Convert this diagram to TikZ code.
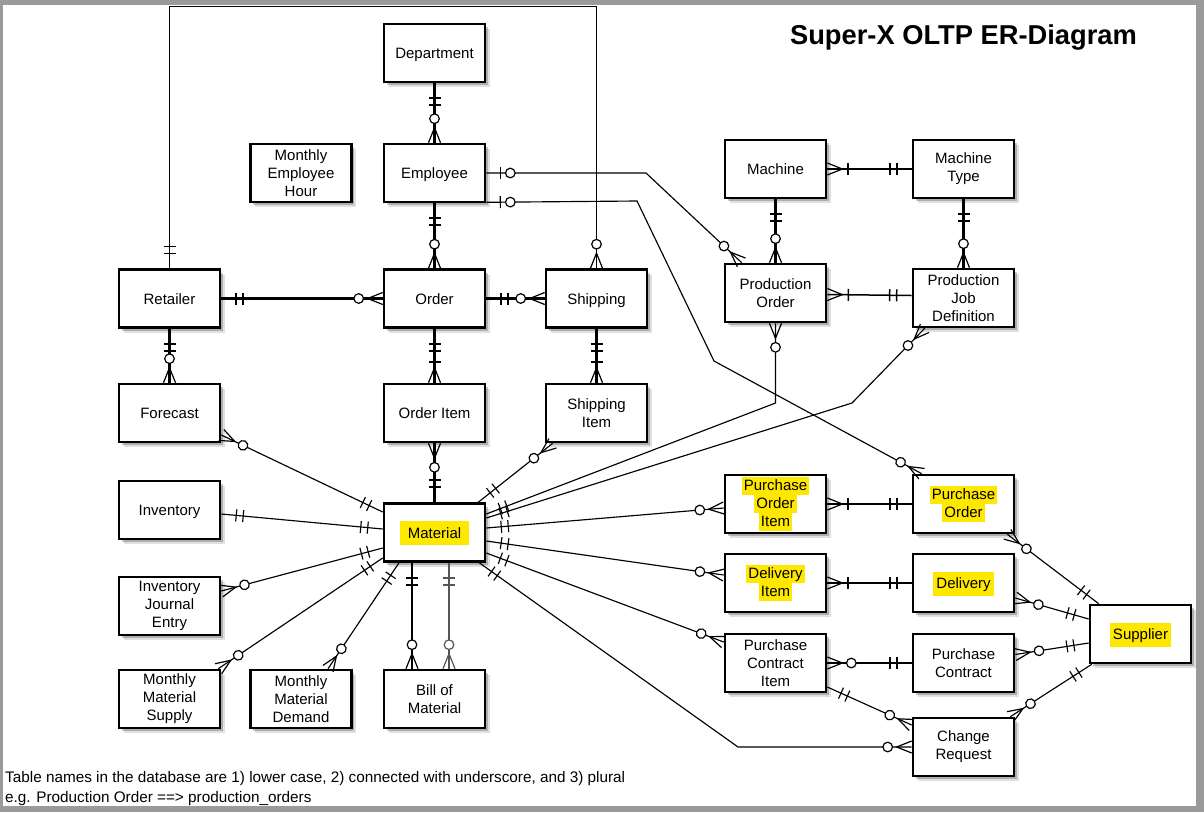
\documentclass[tikz,border=0pt]{standalone}
\usepackage{fontspec}
\setmainfont{Liberation Sans}
\usetikzlibrary{calc,decorations.markings}
\definecolor{hly}{HTML}{FFE800}
\definecolor{framegray}{HTML}{9A9A9A}
\definecolor{linegray}{HTML}{555555}
\newcommand\hl[2][2pt]{{\setlength{\fboxsep}{0pt}\colorbox{hly}{\rule[-4.5pt]{0pt}{18pt}\kern#1#2\kern#1}}}
\newcommand\hlb[2][3pt]{{\setlength{\fboxsep}{0pt}\colorbox{hly}{\rule[-7pt]{0pt}{24pt}\kern#1#2\kern#1}}}
% markers, drawn in the frame of the line (x away from the box)
\newcommand\Mone{\draw (15pt,-6pt)--(15pt,6pt) (22pt,-6pt)--(22pt,6pt);}
\newcommand\Mzm{\draw[mk] (0pt,-6pt)--(15pt,0pt)--(0pt,6pt); \draw[mk,fill=white] (24pt,0pt) circle (4.8pt);}
\newcommand\Mom{\draw[mk] (0pt,-6pt)--(15pt,0pt)--(0pt,6pt); \draw (21pt,-6pt)--(21pt,6pt);}
\newcommand\Mzo{\draw (14pt,-6pt)--(14pt,6pt); \draw[mk,fill=white] (24pt,0pt) circle (4.8pt);}
\begin{document}
\begin{tikzpicture}[x=1pt,y=-1pt,
  box/.style={draw, line width=2.6pt, fill=white, minimum width=101pt, minimum height=58pt,
    align=center, inner sep=1pt, font=\fontsize{15pt}{18pt}\selectfont,
    preaction={draw=none, fill=black, fill opacity=0.12, transform canvas={xshift=4.5pt, yshift=-5pt}},
    preaction={draw=none, fill=black, fill opacity=0.22, transform canvas={xshift=2.5pt, yshift=-3pt}}},
  one/.style={text height=11pt, text depth=0pt},
  mk/.style={line width={max(1.2pt,0.65*\pgflinewidth)}},
  thickl/.style={line width=2.2pt},
  midl/.style={line width=1.5pt},
  thinl/.style={line width=1.15pt},
  er/.style 2 args={postaction={decorate, decoration={markings,
      mark=at position 0.01pt with {#1},
      mark=at position -0.01pt with {\begin{scope}[xscale=-1]#2\end{scope}}}}}
]
\useasboundingbox (0,0) rectangle (1204,812);
\fill[framegray] (0,0) rectangle (1204,812);
\fill[white] (3,5) rectangle (1196,806);

\node[font=\fontsize{27.3pt}{32pt}\selectfont\bfseries] (title) at (963.5,37.5) {Super-X OLTP ER-Diagram};
\node[anchor=base west, inner sep=0pt, font=\fontsize{15.3pt}{20pt}\selectfont] (note1) at (5,782)
  {Table names in the database are 1) lower case, 2) connected with underscore, and 3) plural};
\node[anchor=base west, inner sep=0pt, font=\fontsize{15.3pt}{20pt}\selectfont] (note2) at (5,802)
  {e.g. Production Order ==> production\_orders};

% entities
\node[box,one] (dept) at (434.5,53) {Department};
\node[box,one] (emp) at (434.5,173) {Employee};
\node[box] (meh) at (301,173) {Monthly\\Employee\\Hour};
\node[box,one] (ret) at (169.5,298.5) {Retailer};
\node[box,one] (ord) at (434.5,298.5) {Order};
\node[box,one] (ship) at (596.5,298.5) {Shipping};
\node[box,one] (fc) at (169.5,413) {Forecast};
\node[box,one] (oi) at (434.5,413) {Order Item};
\node[box] (si) at (596.5,413) {Shipping\\Item};
\node[box,one] (inv) at (169.5,510) {Inventory};
\node[box,one] (mat) at (434.5,532.5) {\hlb[8pt]{Material}};
\node[box] (ije) at (169.5,606) {Inventory\\Journal\\Entry};
\node[box] (mms) at (169.5,699) {Monthly\\Material\\Supply};
\node[box] (mmd) at (301,699) {Monthly\\Material\\Demand};
\node[box] (bom) at (434.5,699) {Bill of\\Material};
\node[box,one] (mach) at (775.5,169) {Machine};
\node[box] (mt) at (963.5,169) {Machine\\Type};
\node[box] (po) at (775.5,293) {Production\\Order};
\node[box] (pjd) at (963.5,298) {Production\\Job\\Definition};
\node[box] (poi) at (775.5,504) {\hl{Purchase}\\\hl{Order}\\\hl{Item}};
\node[box] (pur) at (963.5,504) {\hl{Purchase}\\\hl{Order}};
\node[box] (di) at (775.5,583) {\hl{Delivery}\\\hl{Item}};
\node[box,one] (del) at (963.5,583) {\hlb{Delivery}};
\node[box] (pci) at (775.5,663) {Purchase\\Contract\\Item};
\node[box] (pc) at (963.5,663) {Purchase\\Contract};
\node[box] (cr) at (963.5,747) {Change\\Request};
\node[box,one] (sup) at (1140.5,634) {\hlb{Supplier}};

% relationships
\draw[thickl, er={\Mone}{\Mzm}] (dept.south) -- (emp.north);
\draw[thickl, er={\Mone}{\Mzm}] (emp.south) -- (ord.north);
\draw[thickl, er={\Mone}{\Mzm}] (ret.east) -- (ord.west);
\draw[thickl, er={\Mone}{\Mzm}] (ord.east) -- (ship.west);
\draw[thickl, er={\Mone}{\Mzm}] (ret.south) -- (fc.north);
\draw[thickl, er={\Mone}{\Mom}] (ord.south) -- (oi.north);
\draw[thickl, er={\Mone}{\Mom}] (ship.south) -- (si.north);
\draw[thickl, er={\Mzm}{\Mone}] (oi.south) -- (mat.north);
\draw[thinl, er={\Mone}{\Mzm}] (ret.north) -- ++(0,-262) -| (ship.north);
\draw[thinl, er={\Mzo}{\Mzm}] (emp.east) -- (646,173) -- ($(po.north west)+(18,0)$);
\draw[thinl, er={\Mzo}{\Mzm}] ($(emp.south east)+(0,-1)$) -- (637,201) -- (714,361) -- ($(pur.north west)+(10,0)$);

\draw[thickl, er={\Mom}{\Mone}] (mach.east) -- (mt.west);
\draw[thickl, er={\Mone}{\Mzm}] (mach.south) -- (po.north);
\draw[thickl, er={\Mone}{\Mzm}] (mt.south) -- (pjd.north);
\draw[midl, er={\Mom}{\Mone}] ($(po.east)+(0,1.5)$) -- ($(pjd.west)+(0,-2.5)$);

\draw[thinl, er={\Mzm}{\Mone}] ($(fc.east)+(0,22)$) -- ($(mat.west)+(0,-20.5)$);
\draw[thinl, er={\Mone}{\Mone}] ($(inv.east)+(0,4)$) -- ($(mat.west)+(0,-3.5)$);
\draw[thinl, er={\Mzm}{\Mone}] ($(ije.east)+(0,-15)$) -- ($(mat.west)+(0,15.5)$);
\draw[thinl, er={\Mzm}{\Mone}] ($(mms.north east)+(-3,0)$) -- ($(mat.west)+(0,25.5)$);
\draw[thinl, er={\Mzm}{\Mone}] ($(mmd.north)+(27,0)$) -- ($(mat.south)+(-35.5,0)$);
\draw[midl, er={\Mone}{\Mzm}] ($(mat.south)+(-22.5,0)$) -- ($(bom.north)+(-22.5,0)$);
\draw[midl, linegray, er={\Mone}{\Mzm}] ($(mat.south)+(14.5,0)$) -- ($(bom.north)+(14.5,0)$);
\draw[thinl, er={\Mzm}{\Mone}] ($(si.south west)+(8,0)$) -- ($(mat.north east)+(-8,0)$);
\draw[thinl, er={\Mzm}{\Mone}] (po.south) -- (775.5,403) -- ($(mat.east)+(0,-18.5)$);
\draw[thinl, er={\Mzm}{\Mone}] ($(pjd.south west)+(13,0)$) -- (852,403) -- ($(mat.east)+(0,-14.5)$);
\draw[thinl, er={\Mone}{\Mzm}] ($(mat.east)+(0,-4.5)$) -- ($(poi.west)+(0,4)$);
\draw[thinl, er={\Mone}{\Mzm}] ($(mat.east)+(0,8.5)$) -- ($(di.west)+(0,-8)$);
\draw[thinl, er={\Mone}{\Mzm}] ($(mat.east)+(0,20.5)$) -- ($(pci.west)+(0,-21)$);
\draw[thinl, er={\Mone}{\Mzm}] ($(mat.south east)+(-7,0)$) -- (738,747) -- (cr.west);

\draw[thickl, er={\Mom}{\Mone}] (poi.east) -- (pur.west);
\draw[thickl, er={\Mom}{\Mone}] (di.east) -- (del.west);
\draw[thickl, er={\Mzm}{\Mone}] (pci.east) -- (pc.west);
\draw[thinl, er={\Mone}{\Mzm}] ($(pci.east)+(0,24)$) -- ($(cr.west)+(0,-22)$);
\draw[thinl, er={\Mzm}{\Mone}] ($(pur.south east)+(-8,0)$) -- ($(sup.north west)+(10,0)$);
\draw[thinl, er={\Mzm}{\Mone}] ($(del.east)+(0,15)$) -- ($(sup.west)+(0,-15)$);
\draw[thinl, er={\Mzm}{\Mone}] ($(pc.east)+(0,-8.5)$) -- ($(sup.west)+(0,9)$);
\draw[thinl, er={\Mzm}{\Mone}] ($(cr.north east)+(-5,0)$) -- ($(sup.south west)+(3,0)$);
\end{tikzpicture}
\end{document}
